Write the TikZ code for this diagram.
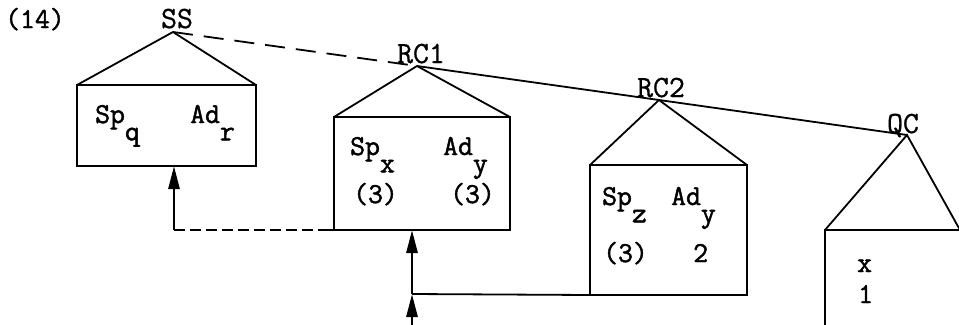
\documentclass[tikz,border=0pt]{standalone}
\usepackage{fontspec}
\usetikzlibrary{arrows.meta}
\newfontfamily\typer[FakeBold=1.6]{Latin Modern Mono}
\newfontfamily\labfont[FakeBold=0.8]{Latin Modern Mono}
\newcommand\lowsub[1]{\raisebox{-0.6em}{#1}}
\tikzset{
  box/.style={draw, line width=2bp, inner sep=0pt, outer sep=0pt},
  roof/.style={line width=1.8bp, line join=miter},
  txt/.style={font=\fontsize{29}{32}\selectfont\typer, inner sep=0pt, anchor=base west},
  cat/.style={font=\fontsize{31}{34}\selectfont\labfont, inner sep=0pt, anchor=base},
  arr/.style={line width=2.8bp, -{Triangle[length=23bp,width=11bp]}},
  link/.style={line width=1.8bp},
  topdash/.style={line width=1.8bp, dash pattern=on 20bp off 11bp},
  lowdash/.style={line width=2bp, dash pattern=on 11bp off 5bp},
}
\begin{document}
\begin{tikzpicture}[x=1bp,y=-1bp]
\useasboundingbox (0,0) rectangle (959,324);
\clip (0,0) rectangle (959,324);

% number
\node[txt] (num) at (5,28) {(14)};

% apex coordinates
\coordinate (ss) at (173,32);
\coordinate (rc1) at (417,66);
\coordinate (rc2) at (659,100);
\coordinate (qc) at (907,135);

% category labels
\node[cat] (ssl) at (177,28) {SS};
\node[cat] (rc1l) at (421,63) {RC1};
\node[cat] (rc2l) at (661,97) {RC2};
\node[cat] (qcl) at (903,133) {QC};

% boxes
\node[box, minimum width=179bp, minimum height=81bp] (ssbox) at (166.5,125.5) {};
\node[box, minimum width=176bp, minimum height=113bp] (rc1box) at (422,173.5) {};
\node[box, minimum width=157bp, minimum height=130bp] (rc2box) at (668.5,230) {};
\node[box, minimum width=175bp, minimum height=130bp] (qcbox) at (912.5,295) {};

% roofs
\draw[roof] (ssbox.north west) -- (ss) -- (ssbox.north east);
\draw[roof] (rc1box.north west) -- (rc1) -- (rc1box.north east);
\draw[roof] (rc2box.north west) -- (rc2) -- (rc2box.north east);
\coordinate (qcr) at (960,230);
\draw[roof] (qcbox.north west) -- (qc) -- (qcr);

% top line
\draw[topdash] (ss) -- (rc1);
\draw[link] (rc1) -- (rc2) -- (qc);

% box contents
\node[txt] (spq) at (95,123) {Sp\lowsub{q}};
\node[txt] (adr) at (190,123) {Ad\lowsub{r}};

\node[txt] (spx) at (350,155) {Sp\lowsub{x}};
\node[txt] (ady) at (443,155) {Ad\lowsub{y}};
\node[txt] (n1) at (353,203) {(3)};
\node[txt] (n2) at (450,203) {(3)};

\node[txt] (spz) at (602,205) {Sp\lowsub{z}};
\node[txt] (ady2) at (671,205) {Ad\lowsub{y}};
\node[txt] (n3) at (603,262) {(3)};
\node[txt] (n4) at (693,262) {2};

\node[txt] (qx) at (857,272) {x};
\node[txt] (q1) at (858,303) {1};

% lower connectors
\coordinate (f1) at (174,230);
\coordinate (d1) at (322,230);
\draw[arr] (f1) -- (ssbox.south -| f1);
\draw[lowdash] (f1) -- (d1);
\draw[link] (d1) -- (rc1box.south west);

\coordinate (g0) at (412,330);
\coordinate (j) at (412,294);
\draw[arr] (g0) -- (j);
\draw[arr] (j) -- (rc1box.south -| j);
\draw[link] (j) -- (rc2box.south west);
\end{tikzpicture}
\end{document}
